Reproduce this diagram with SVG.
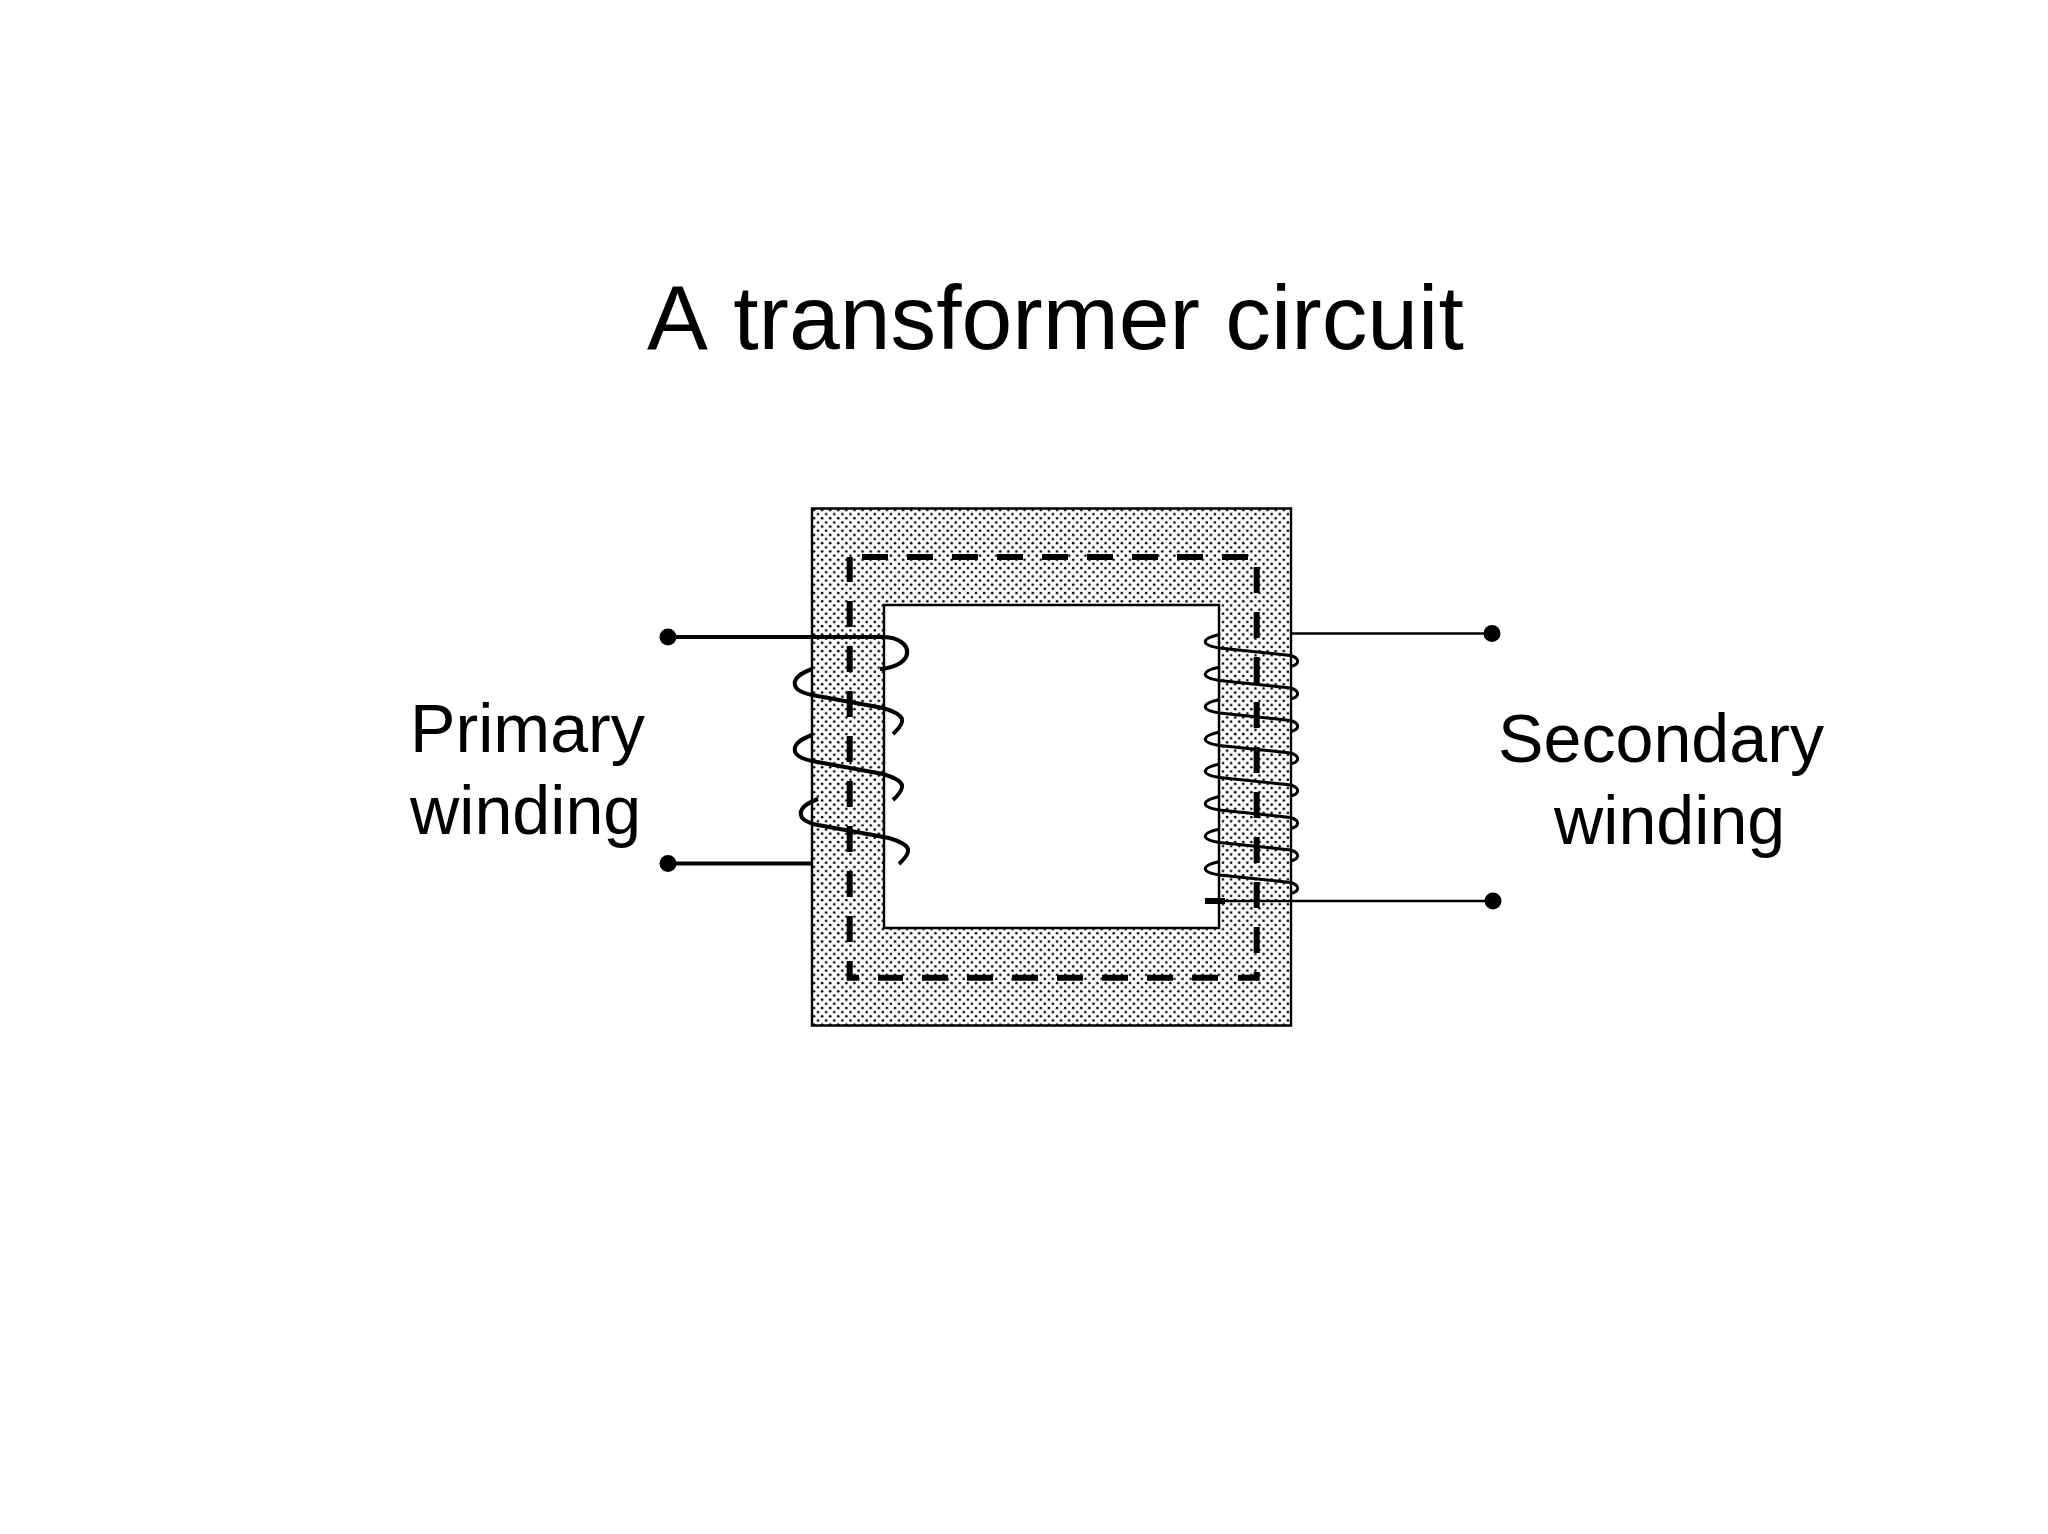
<svg xmlns="http://www.w3.org/2000/svg" width="2048" height="1534" viewBox="0 0 2048 1534">
<style>
text{font-family:"Liberation Sans",Arial,sans-serif;fill:#000;font-kerning:none}
.lbl{font-size:68.200px}
.ttl{font-size:91.300px}
.coilp{fill:none;stroke:#000;stroke-width:4}
.coils{fill:none;stroke:#000;stroke-width:3}
.wp{stroke:#000;stroke-width:4.200;fill:none}
.ws{stroke:#000;stroke-width:2.400;fill:none}
.flux{fill:none;stroke:#000;stroke-width:6;stroke-dasharray:26 19}
</style>
<defs>
<pattern id="dots" width="8.100" height="8.300" patternUnits="userSpaceOnUse" x="812" y="508">
<rect width="8.100" height="8.300" fill="#fff"/>
<circle cx="2" cy="2" r="1.300" fill="#000"/>
<circle cx="6.050" cy="6.150" r="1.300" fill="#000"/>
</pattern>
<path id="pc" d="M0 0C-22 8-24 21 0 26L71 39C94 46 95 52 81 65"/>
<path id="sc" d="M0 0C-18 4-20 10 0 13.500L71 21C81 24 80 30 71 32"/>
</defs>
<rect width="2048" height="1534" fill="#fff"/>
<g id="title"><text class="ttl" x="647" y="349">A transformer circuit</text></g>
<g id="core">
<path d="M812 508.500H1291V1025.500H812ZM884 605V928H1219V605Z" fill="url(#dots)" fill-rule="evenodd" stroke="#000" stroke-width="2.400"/>
</g>
<g id="flux-path">
<path class="flux" d="M859 977.700H849.700V557"/>
<path class="flux" d="M862 557H1256.700"/>
<path class="flux" d="M1256.700 567V977.700H1238"/>
<path class="flux" d="M1218 977.700H878"/>
</g>
<g id="connectors">
<g id="primary-winding">
<path class="wp" d="M668 637H884C914 638 917 666 880 669"/>
<path class="wp" d="M668 863.500H812"/>
<use href="#pc" class="coilp" x="812" y="669"/>
<use href="#pc" class="coilp" x="812" y="735"/>
<use href="#pc" class="coilp" x="818" y="799"/>
</g>
<g id="secondary-winding">
<path class="ws" d="M1291 633.500H1492"/>
<path class="ws" d="M1225 901H1492"/>
<path d="M1205 901H1225" stroke="#000" stroke-width="6"/>
<use href="#sc" class="coils" x="1219.500" y="634.500"/>
<use href="#sc" class="coils" x="1219.500" y="667"/>
<use href="#sc" class="coils" x="1219.500" y="699.500"/>
<use href="#sc" class="coils" x="1219.500" y="732"/>
<use href="#sc" class="coils" x="1219.500" y="764"/>
<use href="#sc" class="coils" x="1219.500" y="796.500"/>
<use href="#sc" class="coils" x="1219.500" y="829"/>
<use href="#sc" class="coils" x="1219.500" y="861.500"/>
</g>
</g>
<g id="terminals">
<circle cx="668" cy="637" r="8.500"/>
<circle cx="668" cy="863.500" r="8.500"/>
<circle cx="1492" cy="633.500" r="8.500"/>
<circle cx="1493" cy="901" r="8.500"/>
</g>
<g id="label-primary">
<text class="lbl" x="410" y="752">Primary</text>
<text class="lbl" x="410" y="834">winding</text>
</g>
<g id="label-secondary">
<text class="lbl" x="1498" y="762">Secondary</text>
<text class="lbl" x="1554" y="844">winding</text>
</g>
</svg>
